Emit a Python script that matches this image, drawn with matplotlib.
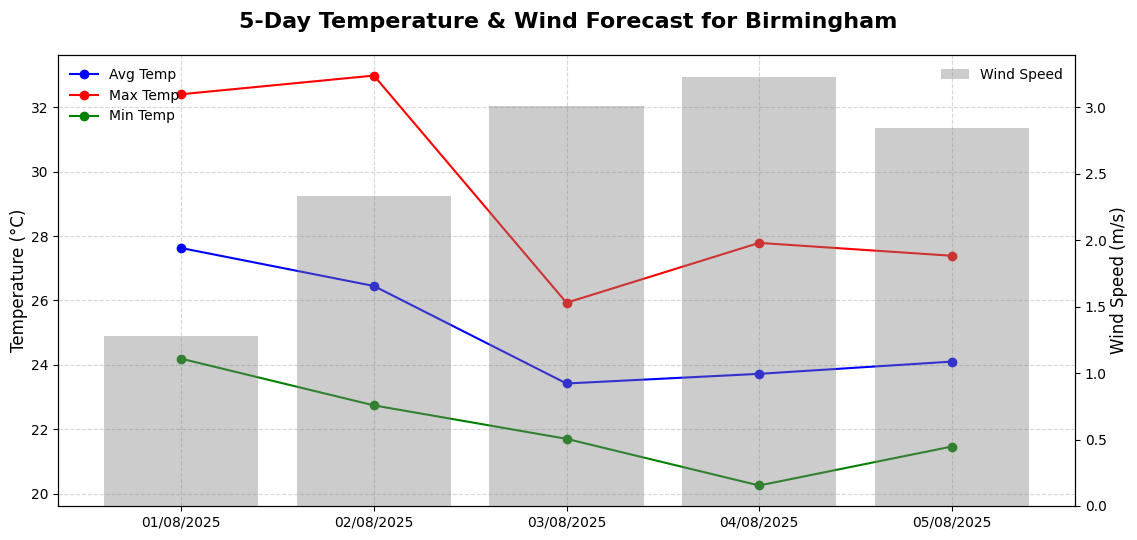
import matplotlib
matplotlib.use('Agg')
import matplotlib.pyplot as plt

# Forecast data
dates = ['01/08/2025', '02/08/2025', '03/08/2025', '04/08/2025', '05/08/2025']
avg_temp = [27.63, 26.45, 23.42, 23.72, 24.10]
max_temp = [32.41, 32.99, 25.93, 27.79, 27.39]
min_temp = [24.19, 22.74, 21.70, 20.25, 21.46]
wind_speed = [1.28, 2.33, 3.01, 3.23, 2.84]

fig, ax1 = plt.subplots(figsize=(11.37, 5.4), dpi=100)
fig.subplots_adjust(left=0.051, right=0.9455, top=0.898, bottom=0.063)

# Temperature lines
ax1.plot(dates, avg_temp, marker='o', color='blue', label='Avg Temp')
ax1.plot(dates, max_temp, marker='o', color='red', label='Max Temp')
ax1.plot(dates, min_temp, marker='o', color='green', label='Min Temp')
ax1.set_ylabel('Temperature (°C)', fontsize=12, labelpad=2)
ax1.grid(True, linestyle='--', alpha=0.5)
ax1.legend(loc='upper left', frameon=False)

# Wind speed bars on second axis
ax2 = ax1.twinx()
ax2.bar(dates, wind_speed, color='gray', alpha=0.4, label='Wind Speed')
ax2.set_ylabel('Wind Speed (m/s)', fontsize=12, labelpad=2)
ax2.legend(loc='upper right', frameon=False)

fig.suptitle('5-Day Temperature & Wind Forecast for Birmingham', fontsize=16, fontweight='bold', y=0.978)

plt.savefig('out.png')
